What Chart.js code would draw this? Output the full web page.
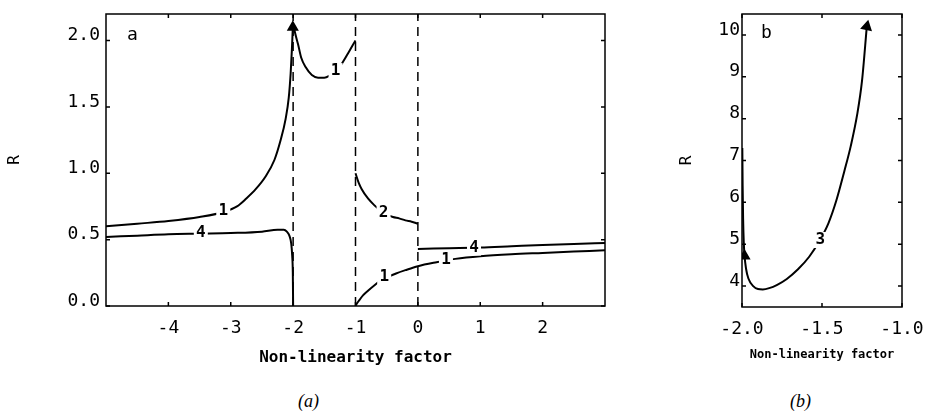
<!DOCTYPE html>
<html>
<head>
<meta charset="utf-8">
<script src="https://cdn.jsdelivr.net/npm/chart.js@4.4.1/dist/chart.umd.min.js"></script>
<style>
  html, body { margin: 0; padding: 0; background: #fff; }
  body { width: 927px; height: 414px; position: relative; overflow: hidden; }
  canvas { position: absolute; top: 0; }
  #chartA { left: 0; }
  #chartB { left: 670px; }
  .caption { position: absolute; top: 391px; font: italic 18px "Liberation Serif", serif; color: #000; }
</style>
</head>
<body>
<canvas id="chartA" width="620" height="371"></canvas>
<canvas id="chartB" width="257" height="366"></canvas>
<div class="caption" style="left:298px">(a)</div>
<div class="caption" style="left:790px">(b)</div>
<script>
// ---- panel a ----
const xRangeA = [-5, 3];
const rRangeA = [0, 2.2];
const xTicksA = [-4, -3, -2, -1, 0, 1, 2];
const rTicksA = [0, 0.5, 1.0, 1.5, 2.0];
const dashedX = [-2, -1, 0];

// curve 1, left branch (rises towards x = -2)
const c1LeftX = [-5, -4.5, -4, -3.5, -3.1, -2.9, -2.75, -2.6, -2.45, -2.3, -2.2, -2.12, -2.07, -2.04, -2.02, -2.005];
const c1LeftR = [0.60, 0.62, 0.64, 0.67, 0.71, 0.75, 0.81, 0.88, 0.97, 1.10, 1.25, 1.41, 1.57, 1.75, 1.93, 2.10];
// curve 1, between -2 and -1
const c1MidX = [-1.995, -1.97, -1.92, -1.87, -1.8, -1.7, -1.6, -1.5, -1.4, -1.3, -1.2, -1.1, -1.0];
const c1MidR = [2.12, 2.06, 1.97, 1.87, 1.80, 1.74, 1.72, 1.72, 1.74, 1.77, 1.84, 1.92, 2.0];
// curve 2, between -1 and 0
const c2X = [-1.0, -0.95, -0.9, -0.8, -0.7, -0.6, -0.5, -0.4, -0.3, -0.2, -0.1, 0];
const c2R = [1.0, 0.93, 0.88, 0.81, 0.76, 0.72, 0.69, 0.67, 0.66, 0.645, 0.635, 0.62];
// curve 4, left part (drops to 0 at x = -2)
const c4LeftX = [-5, -4.5, -4, -3.5, -3, -2.5, -2.25, -2.15, -2.1, -2.06, -2.03, -2.015, -2.005, -2.0];
const c4LeftR = [0.52, 0.53, 0.54, 0.545, 0.55, 0.56, 0.575, 0.575, 0.56, 0.53, 0.47, 0.38, 0.25, 0.0];
// curve 1, lower right branch
const c1RightX = [-1.0, -0.97, -0.93, -0.88, -0.8, -0.7, -0.6, -0.5, -0.35, -0.2, 0, 0.3, 0.6, 1.0, 1.5, 2.0, 2.5, 3.0];
const c1RightR = [0, 0.025, 0.05, 0.08, 0.115, 0.155, 0.19, 0.215, 0.245, 0.27, 0.30, 0.33, 0.355, 0.375, 0.39, 0.40, 0.41, 0.42];
// curve 4, right part
const c4RightX = [0, 0.5, 1, 1.5, 2, 2.5, 3];
const c4RightR = [0.43, 0.435, 0.44, 0.45, 0.46, 0.468, 0.475];

const labelTextA = ['1', '1', '2', '1', '1', '4', '4'];
const labelXA = [-3.12, -1.32, -0.55, -0.54, 0.45, 0.90, -3.48];
const labelRA = [0.72, 1.77, 0.70, 0.22, 0.35, 0.44, 0.55];

// ---- panel b ----
const xRangeB = [-2.0, -1.0];
const rRangeB = [3.5, 10.5];
const xTicksB = [-2.0, -1.5, -1.0];
const rTicksB = [4, 5, 6, 7, 8, 9, 10];
const c3X = [-1.998, -1.996, -1.993, -1.989, -1.984, -1.975, -1.96, -1.93, -1.9, -1.87, -1.83, -1.78, -1.72, -1.65, -1.58, -1.52, -1.46, -1.41, -1.36, -1.32, -1.28, -1.25, -1.22];
const c3R = [7.3, 6.4, 5.6, 5.05, 4.72, 4.42, 4.18, 4.0, 3.93, 3.92, 3.95, 4.03, 4.17, 4.40, 4.70, 5.05, 5.50, 6.05, 6.75, 7.35, 8.1, 8.9, 10.2];
const labelTextB = ['3'];
const labelXB = [-1.51];
const labelRB = [5.1];

const MONO = '"DejaVu Sans Mono", monospace';
const pts = (xs, rs) => xs.map((x, i) => ({ x, y: rs[i] }));

function curve(xs, rs, arrowAt, arrowRot) {
  return {
    data: pts(xs, rs),
    showLine: true,
    borderColor: '#000',
    borderWidth: 2,
    cubicInterpolationMode: 'monotone',
    pointStyle: 'triangle',
    rotation: arrowRot || 0,
    pointRadius: c => (c.dataIndex === arrowAt ? 5 : 0),
    pointBackgroundColor: '#000',
    pointBorderColor: '#000'
  };
}

const framePlugin = {
  id: 'frame',
  afterDatasetsDraw(chart) {
    const { ctx, chartArea: a, scales } = chart;
    ctx.save();
    ctx.strokeStyle = '#000';
    ctx.lineWidth = 1.5;
    ctx.strokeRect(a.left, a.top, a.right - a.left, a.bottom - a.top);
    ctx.beginPath();
    scales.x.ticks.forEach(t => {
      const px = scales.x.getPixelForValue(t.value);
      ctx.moveTo(px, a.bottom); ctx.lineTo(px, a.bottom - 4);
      ctx.moveTo(px, a.top); ctx.lineTo(px, a.top + 4);
    });
    scales.y.ticks.forEach(t => {
      const py = scales.y.getPixelForValue(t.value);
      ctx.moveTo(a.left, py); ctx.lineTo(a.left + 4, py);
      ctx.moveTo(a.right, py); ctx.lineTo(a.right - 4, py);
    });
    ctx.stroke();
    ctx.restore();
  }
};

const labelPlugin = {
  id: 'curveLabels',
  afterDatasetsDraw(chart, args, opts) {
    const { ctx, chartArea: a, scales } = chart;
    ctx.save();
    ctx.font = 'bold 16px ' + MONO;
    ctx.textAlign = 'center';
    ctx.textBaseline = 'middle';
    opts.texts.forEach((t, i) => {
      const px = scales.x.getPixelForValue(opts.xs[i]);
      const py = scales.y.getPixelForValue(opts.rs[i]);
      ctx.fillStyle = '#fff';
      ctx.fillRect(px - 7, py - 8, 14, 16);
      ctx.fillStyle = '#000';
      ctx.fillText(t, px, py);
    });
    ctx.font = '18px ' + MONO;
    ctx.textAlign = 'left';
    ctx.fillText(opts.letter, a.left + opts.letterDx, a.top + opts.letterDy);
    ctx.restore();
  }
};

function axes(xRange, xTicks, xFmt, rRange, rTicks, rFmt, sz) {
  return {
    x: {
      type: 'linear', min: xRange[0], max: xRange[1],
      afterBuildTicks: s => { s.ticks = xTicks.map(v => ({ value: v })); },
      afterFit: s => { s.height = sz.xh; s.paddingLeft = 0; s.paddingRight = 0; },
      grid: { display: false, drawTicks: false },
      border: { display: false },
      ticks: { padding: 12, color: '#000', font: { family: MONO, size: 18 }, maxRotation: 0, callback: xFmt },
      title: { display: true, text: 'Non-linearity factor', color: '#000',
        font: { family: MONO, size: sz.titleSize, weight: 'bold' }, padding: { top: 4, bottom: 4 } }
    },
    y: {
      type: 'linear', min: rRange[0], max: rRange[1],
      afterBuildTicks: s => { s.ticks = rTicks.map(v => ({ value: v })); },
      afterFit: s => { s.width = sz.yw; s.paddingTop = 0; s.paddingBottom = 0; },
      grid: { display: false, drawTicks: false },
      border: { display: false },
      ticks: { padding: sz.ypad, labelOffset: -5, color: '#000', font: { family: MONO, size: 18 }, callback: rFmt },
      title: { display: true, text: 'R', color: '#000', font: { family: MONO, size: 16 }, padding: { top: sz.rpad, bottom: 0 } }
    }
  };
}

const dashSets = dashedX.map(x => ({
  data: [{ x, y: rRangeA[0] }, { x, y: rRangeA[1] }],
  showLine: true, borderColor: '#000', borderWidth: 1.5, borderDash: [9, 6], pointRadius: 0
}));

new Chart(document.getElementById('chartA'), {
  type: 'scatter',
  data: {
    datasets: [
      ...dashSets,
      curve(c1LeftX, c1LeftR, c1LeftX.length - 1, 0),
      curve(c1MidX, c1MidR),
      curve(c2X, c2R),
      curve(c4LeftX, c4LeftR),
      curve(c1RightX, c1RightR),
      curve(c4RightX, c4RightR)
    ]
  },
  options: {
    responsive: false,
    animation: false,
    layout: { padding: { top: 14, right: 15, left: 0, bottom: 0 } },
    plugins: {
      legend: { display: false },
      tooltip: { enabled: false },
      curveLabels: { texts: labelTextA, xs: labelXA, rs: labelRA, letter: 'a', letterDx: 21, letterDy: 21 }
    },
    scales: axes(xRangeA, xTicksA, v => String(v), rRangeA, rTicksA, v => v.toFixed(1),
      { xh: 65, yw: 106, ypad: 6, rpad: 5, titleSize: 16 })
  },
  plugins: [framePlugin, labelPlugin]
});

new Chart(document.getElementById('chartB'), {
  type: 'scatter',
  data: {
    datasets: [
      curve(c3X, c3R, 4, 0),
      curve(c3X.slice(-1), c3R.slice(-1), 0, 12)
    ]
  },
  options: {
    responsive: false,
    animation: false,
    layout: { padding: { top: 14, right: 25, left: 0, bottom: 0 } },
    plugins: {
      legend: { display: false },
      tooltip: { enabled: false },
      curveLabels: { texts: labelTextB, xs: labelXB, rs: labelRB, letter: 'b', letterDx: 19, letterDy: 19 }
    },
    scales: axes(xRangeB, xTicksB, v => v.toFixed(1), rRangeB, rTicksB, v => String(v),
      { xh: 59, yw: 72, ypad: 2, rpad: 7, titleSize: 12 })
  },
  plugins: [framePlugin, labelPlugin]
});
</script>
</body>
</html>
